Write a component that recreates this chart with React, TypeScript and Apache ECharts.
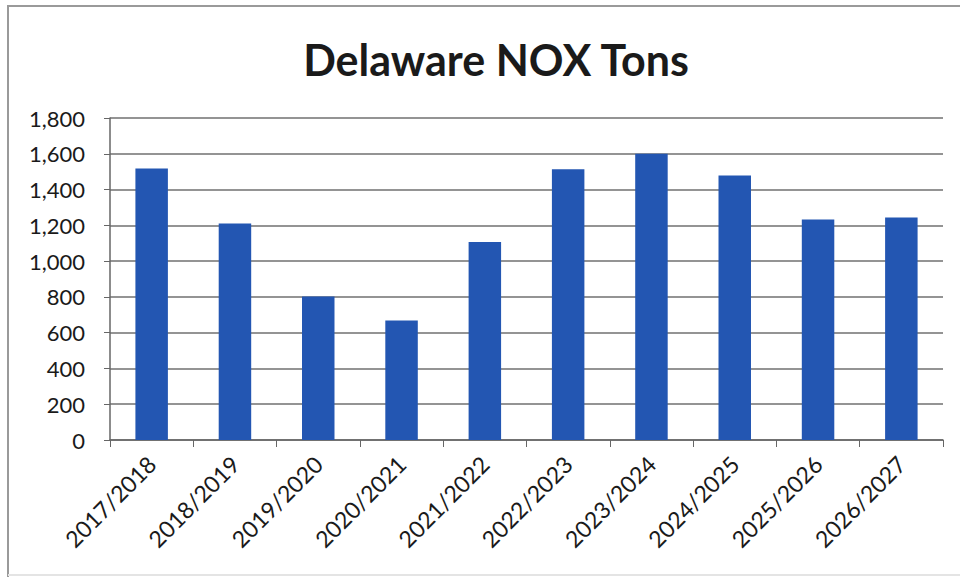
import React, { useEffect, useRef } from "react";
import * as echarts from "echarts";

const categories = ["2017/2018", "2018/2019", "2019/2020", "2020/2021", "2021/2022", "2022/2023", "2023/2024", "2024/2025", "2025/2026", "2026/2027"];
const noxTons = [1518, 1210, 802, 668, 1107, 1513, 1600, 1478, 1232, 1244];
const yTicks = { min: 0, max: 1800, interval: 200 };
const titleText = "Delaware NOX Tons";

export default function App() {
  const ref = useRef<HTMLDivElement>(null);
  useEffect(() => {
    if (!ref.current) return;
    const chart = echarts.init(ref.current, null, { renderer: "svg" });
    chart.setOption({
      animation: false,
      backgroundColor: "#ffffff",
      textStyle: { fontFamily: "Lato" },
      title: {
        text: titleText,
        left: 491,
        textAlign: "center",
        top: 33,
        textStyle: { fontFamily: "Lato", fontWeight: "bold", fontSize: 43, color: "#1a1a1a" },
      },
      graphic: [
        {
          type: "polyline",
          shape: { points: [[8, 577], [8, 6], [960, 6]] },
          style: { stroke: "#9a9a9a", lineWidth: 2, fill: "none" },
          silent: true,
        },
        {
          type: "line",
          shape: { x1: 8, y1: 575, x2: 960, y2: 575 },
          style: { stroke: "#e4e4e4", lineWidth: 2 },
          silent: true,
        },
      ],
      grid: { left: 110, right: 17, top: 118, bottom: 137, containLabel: false },
      xAxis: {
        type: "category",
        data: categories,
        axisLine: { show: true, lineStyle: { color: "#666666", width: 1.5 } },
        axisTick: { show: true, alignWithLabel: false, length: 7, lineStyle: { color: "#666666" } },
        axisLabel: {
          rotate: 45,
          margin: 20,
          fontSize: 23,
          color: "#1a1a1a",
          fontFamily: "Lato",
          interval: 0,
        },
      },
      yAxis: {
        type: "value",
        min: yTicks.min,
        max: yTicks.max,
        interval: yTicks.interval,
        axisLine: { show: true, lineStyle: { color: "#666666", width: 1.5 } },
        axisTick: { show: true, length: 6, lineStyle: { color: "#666666" } },
        axisLabel: {
          margin: 25,
          fontSize: 22,
          color: "#1a1a1a",
          fontFamily: "Lato",
          formatter: (v: number) => v.toLocaleString("en-US"),
        },
        splitLine: { show: true, lineStyle: { color: "#707070", width: 1.5 } },
      },
      series: [
        {
          type: "bar",
          data: noxTons,
          barWidth: "39%",
          itemStyle: { color: "#2356b2" },
        },
      ],
    });
    return () => chart.dispose();
  }, []);
  return <div ref={ref} style={{ width: 960, height: 577, position: "absolute", left: 0, top: 0 }} />;
}
